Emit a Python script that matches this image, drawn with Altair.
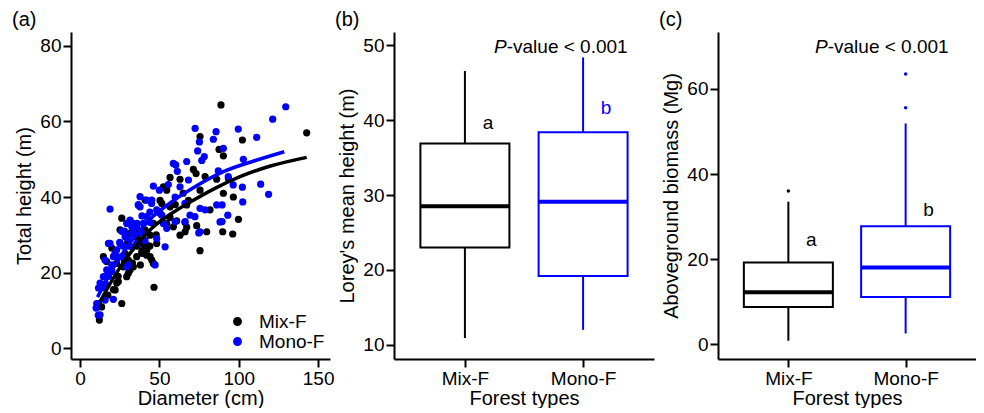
import altair as alt
import pandas as pd

FONT = "Liberation Sans"
BLACK = "#000000"
BLUE = "#0000ff"

groups = ["Mix-F", "Mono-F"]

# ---- panel (a): tree diameter vs. total height ----
mix_diameter = [88.8, 142.8, 102.3, 75.6, 87.6, 90.3, 71.4, 73.1, 78.8, 56.7, 86.1, 93.5, 90.3, 96.6,
                99.8, 96.2, 89.9, 79.8, 75.6, 73.5, 67.2, 81.9, 63.0, 66.1, 68.3, 75.6, 63.0, 52.5,
                54.6, 67.2, 56.7, 50.4, 46.2, 40.9, 54.6, 58.8, 44.1, 39.1, 42.0, 39.1, 35.7, 44.1,
                46.2, 46.6, 32.6, 30.4, 27.3, 29.4, 26.3, 25.2, 31.5, 23.1, 26.3, 21.0, 14.7, 16.8,
                11.6, 12.2, 13.6, 19.9, 23.1, 35.7, 31.5, 50.4, 60.9, 56.7, 16.8, 38.9, 42.0, 45.2,
                24.1, 22.1, 30.4, 33.6, 66.2, 34.7, 41.0, 51.5, 48.3, 42.0, 20.0, 17.5, 33.0, 37.5,
                28.5, 24.0, 28.0, 36.0, 40.0, 44.0, 30.0, 38.0, 48.0, 60.0, 65.0]
mix_height = [64.4, 57.0, 55.1, 56.0, 52.6, 50.9, 47.3, 46.2, 45.4, 45.2, 44.7, 44.9, 41.0, 40.0,
              34.1, 30.2, 30.8, 30.8, 25.8, 32.4, 32.0, 36.6, 29.9, 33.3, 39.1, 41.8, 44.7, 42.7,
              41.8, 37.9, 37.4, 35.7, 33.0, 31.3, 33.0, 32.1, 29.9, 27.7, 25.9, 25.1, 24.2, 24.2,
              22.4, 16.1, 26.8, 23.3, 21.5, 18.9, 34.4, 31.3, 20.7, 17.2, 11.8, 15.5, 24.2, 18.9,
              11.8, 7.4, 10.9, 20.7, 22.4, 29.5, 30.4, 39.1, 33.7, 34.6, 22.9, 25.5, 24.6, 23.3,
              17.6, 15.4, 19.8, 21.5, 30.8, 31.3, 39.2, 38.3, 27.7, 27.3, 26.5, 14.0, 22.5, 28.5,
              25.0, 19.0, 23.0, 27.0, 26.0, 27.0, 28.0, 22.0, 30.0, 38.0, 41.0]

mono_diameter = [129.6, 121.4, 111.3, 99.7, 85.7, 72.5, 75.2, 84.0, 90.3, 78.3, 76.7, 74.1, 67.2,
                 60.3, 61.3, 68.3, 63.0, 55.6, 46.2, 50.0, 59.9, 66.1, 69.3, 72.4, 75.6, 78.8, 75.6,
                 87.1, 93.4, 102.3, 102.9, 113.8, 118.8, 102.5, 89.5, 93.1, 89.5, 45.1, 37.8, 42.0,
                 35.7, 33.6, 51.5, 54.6, 48.3, 53.6, 47.3, 40.9, 44.1, 29.4, 31.5, 26.3, 28.4, 18.9,
                 17.9, 25.2, 23.1, 21.0, 15.7, 23.1, 16.8, 19.9, 14.7, 12.6, 11.6, 10.5, 10.1, 12.6,
                 21.0, 29.4, 35.7, 38.9, 48.3, 42.0, 37.8, 96.5, 88.2, 86.1, 74.8, 36.8, 45.2, 52.5,
                 18.9, 12.6, 11.5, 15.8, 30.4, 26.3, 32.6, 28.4, 59.9, 66.2, 58.8, 36.7,
                 20.0, 22.0, 27.0, 30.0, 33.0, 36.0, 39.0, 25.0, 18.0, 14.0, 16.0, 28.0, 34.0, 40.0,
                 44.0, 31.0]
mono_height = [63.9, 60.6, 55.8, 58.0, 57.3, 58.2, 54.6, 55.3, 52.9, 50.7, 49.7, 52.2, 49.4,
               48.5, 46.8, 44.5, 42.7, 43.3, 42.9, 41.8, 40.0, 38.3, 35.2, 34.8, 37.0, 36.6, 30.8,
               46.9, 45.4, 42.6, 50.0, 43.4, 40.7, 38.7, 37.9, 35.2, 33.5, 38.3, 37.4, 34.8,
               32.1, 33.0, 35.2, 31.7, 29.0, 26.8, 22.0, 28.5, 33.3, 33.0, 33.9, 30.9, 29.5, 36.8,
               27.7, 27.7, 26.0, 24.2, 23.3, 24.2, 20.7, 20.3, 18.9, 17.2, 15.9, 11.8, 10.6, 8.8,
               12.9, 21.5, 27.7, 30.4, 36.6, 39.2, 40.1, 43.2, 33.4, 37.9, 30.5, 37.9, 39.2, 33.0,
               27.7, 16.2, 8.7, 12.7, 22.0, 24.2, 32.1, 30.4, 33.5, 33.5, 48.9, 37.9,
               22.0, 25.0, 27.0, 29.0, 31.0, 33.0, 35.0, 28.0, 19.0, 16.0, 17.0, 31.0, 30.0, 33.0,
               36.0, 27.0]

# fitted curves
mix_curve_d = [12.6, 24.2, 34.7, 45.2, 57.8, 70.0, 85.0, 100.8, 120.0, 142.8]
mix_curve_h = [12.3, 20.7, 26.8, 31.7, 35.7, 38.8, 42.3, 45.4, 48.2, 50.5]
mono_curve_d = [11.0, 20.0, 30.0, 45.0, 57.0, 69.3, 90.3, 110.0, 128.7]
mono_curve_h = [13.5, 20.5, 27.0, 34.5, 38.5, 41.9, 46.7, 49.6, 52.0]

# ---- panel (b): Lorey's mean height box stats ----
lorey_low = [10.9, 12.0]
lorey_q1 = [23.0, 19.2]
lorey_med = [28.5, 29.1]
lorey_q3 = [36.9, 38.4]
lorey_high = [46.6, 48.4]
lorey_letters = ["a", "b"]
lorey_letter_y = [39.7, 41.7]
lorey_letter_col = [BLACK, BLUE]

# ---- panel (c): aboveground biomass box stats ----
agb_low = [0.8, 2.5]
agb_q1 = [8.7, 11.1]
agb_med = [12.2, 18.0]
agb_q3 = [19.2, 27.7]
agb_high = [33.5, 51.9]
agb_out_group = ["Mix-F", "Mono-F", "Mono-F"]
agb_out = [36.0, 55.6, 63.5]
agb_letters = ["a", "b"]
agb_letter_y = [24.5, 31.5]
agb_letter_col = [BLACK, BLACK]

color_scale = alt.Scale(domain=groups, range=[BLACK, BLUE])


def panel_label(txt):
    return alt.Chart(pd.DataFrame({"t": [txt]})).mark_text(
        align="left", baseline="middle", fontSize=20, font=FONT, color=BLACK
    ).encode(text="t:N", x=alt.value(-59), y=alt.value(-12))


def pvalue_text(x0):
    p = alt.Chart(pd.DataFrame({"t": ["P"]})).mark_text(
        align="left", baseline="middle", fontSize=19, font=FONT, fontStyle="italic", color=BLACK
    ).encode(text="t:N", x=alt.value(x0), y=alt.value(15))
    rest = alt.Chart(pd.DataFrame({"t": ["-value < 0.001"]})).mark_text(
        align="left", baseline="middle", fontSize=19, font=FONT, color=BLACK
    ).encode(text="t:N", x=alt.value(x0 + 12.7), y=alt.value(15))
    return p + rest


# panel (a)
scatter_df = pd.DataFrame({
    "d": mix_diameter + mono_diameter,
    "h": mix_height + mono_height,
    "type": ["Mix-F"] * len(mix_diameter) + ["Mono-F"] * len(mono_diameter),
})
curve_df = pd.DataFrame({
    "d": mix_curve_d + mono_curve_d,
    "h": mix_curve_h + mono_curve_h,
    "type": ["Mix-F"] * len(mix_curve_d) + ["Mono-F"] * len(mono_curve_d),
})

xa_scale = alt.Scale(domain=[-5.7, 157.5], nice=False, zero=False)
ya_scale = alt.Scale(domain=[-2.9, 83.7], nice=False, zero=False)
xa_axis = alt.Axis(values=[0, 50, 100, 150], title="Diameter (cm)")
ya_axis = alt.Axis(values=[0, 20, 40, 60, 80], title="Total height (m)")

pts = alt.Chart(scatter_df).mark_circle(size=52, opacity=1).encode(
    x=alt.X("d:Q", scale=xa_scale, axis=xa_axis),
    y=alt.Y("h:Q", scale=ya_scale, axis=ya_axis),
    color=alt.Color("type:N", scale=color_scale, legend=alt.Legend(
        title=None, orient="none", legendX=157, legendY=280, symbolType="circle",
        symbolSize=55, labelOffset=12, rowPadding=-4, padding=0,
        labelFont=FONT, labelFontSize=19, labelColor=BLACK)),
)
curves = alt.Chart(curve_df).mark_line(strokeWidth=3.5, interpolate="monotone").encode(
    x=alt.X("d:Q", scale=xa_scale, axis=xa_axis),
    y=alt.Y("h:Q", scale=ya_scale, axis=ya_axis),
    color=alt.Color("type:N", scale=color_scale, legend=None),
)
panel_a = alt.layer(pts, curves, panel_label("(a)")).properties(width=259, height=327)


def box_panel(low, q1, med, q3, high, ydom, yticks, ytitle, letters, letter_y, letter_col,
              label, pos_x, out_g=None, out_v=None):
    df = pd.DataFrame({"g": groups, "low": low, "q1": q1, "med": med, "q3": q3, "high": high})
    xsc = alt.Scale(type="point", padding=0.6, domain=groups)
    xax = alt.Axis(title="Forest types", labelAngle=0)
    ysc = alt.Scale(domain=ydom, nice=False, zero=False)
    yax = alt.Axis(values=yticks, title=ytitle)
    x = alt.X("g:N", scale=xsc, axis=xax)
    col = alt.Color("g:N", scale=color_scale, legend=None)
    base = alt.Chart(df)
    w_hi = base.mark_rule(strokeWidth=2).encode(
        x=x, y=alt.Y("q3:Q", scale=ysc, axis=yax), y2="high:Q", color=col)
    w_lo = base.mark_rule(strokeWidth=2).encode(
        x=x, y=alt.Y("low:Q", scale=ysc, axis=yax), y2="q1:Q", color=col)
    box = base.mark_bar(size=89, fill="white", strokeWidth=2, opacity=1).encode(
        x=x, y=alt.Y("q1:Q", scale=ysc, axis=yax), y2="q3:Q",
        stroke=alt.Stroke("g:N", scale=color_scale, legend=None))
    medl = base.mark_tick(size=89, thickness=4, opacity=1).encode(
        x=x, y=alt.Y("med:Q", scale=ysc, axis=yax), color=col)
    layers = [w_hi, w_lo, box, medl]
    if out_g is not None:
        odf = pd.DataFrame({"g": out_g, "v": out_v})
        layers.append(alt.Chart(odf).mark_circle(size=12, opacity=1).encode(
            x=x, y=alt.Y("v:Q", scale=ysc, axis=yax), color=col))
    ldf = pd.DataFrame({"g": groups, "t": letters, "y": letter_y, "c": letter_col})
    layers.append(alt.Chart(ldf).mark_text(dx=23, fontSize=19, font=FONT, baseline="middle").encode(
        x=x, y=alt.Y("y:Q", scale=ysc, axis=yax), text="t:N", color=alt.Color("c:N", scale=None)))
    layers.append(pvalue_text(pos_x))
    layers.append(panel_label(label))
    return alt.layer(*layers)


panel_b = box_panel(lorey_low, lorey_q1, lorey_med, lorey_q3, lorey_high, [8.1, 51.8],
                    [10, 20, 30, 40, 50], "Lorey's mean height (m)", lorey_letters,
                    lorey_letter_y, lorey_letter_col, "(b)", 100).properties(width=260, height=327)
panel_c = box_panel(agb_low, agb_q1, agb_med, agb_q3, agb_high, [-3.5, 73.4],
                    [0, 20, 40, 60], "Aboveground biomass (Mg)", agb_letters,
                    agb_letter_y, agb_letter_col, "(c)", 97, agb_out_group, agb_out
                    ).properties(width=258, height=327)

chart = alt.hconcat(panel_a, panel_b, panel_c, spacing=64, bounds="flush").resolve_scale(
    color="independent", stroke="independent"
).properties(
    padding={"left": 4, "top": 2, "right": 0, "bottom": 0}
).configure_view(stroke=None).configure_axis(
    domainColor=BLACK, domainWidth=2, tickColor=BLACK, tickWidth=2, tickSize=8,
    labelFont=FONT, labelFontSize=19, labelColor=BLACK, labelPadding=2,
    titleFont=FONT, titleFontSize=20, titleFontWeight="normal", titleColor=BLACK, grid=False
).configure_axisLeft(titlePadding=5).configure_axisBottom(titlePadding=0)

chart.save("out.html", embed_options={"renderer": "svg", "actions": False})
